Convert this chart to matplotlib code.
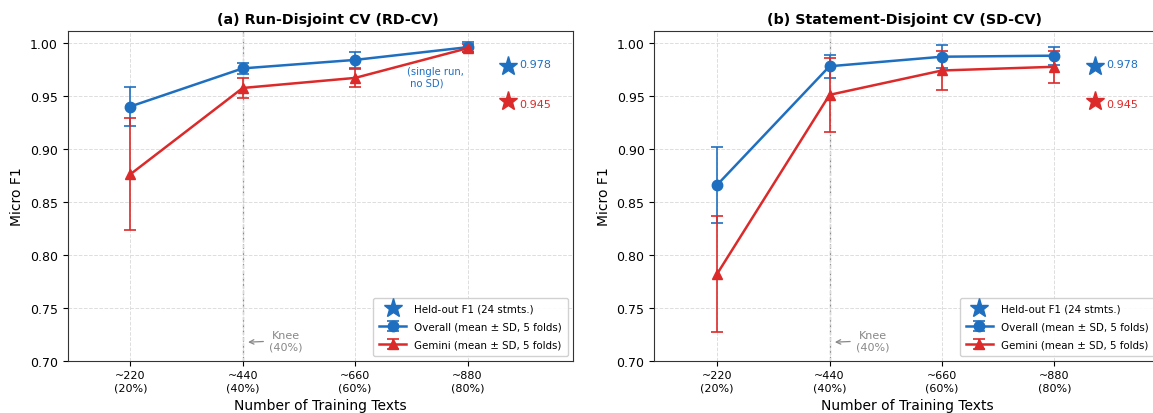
import numpy as np
import matplotlib
matplotlib.use("Agg")
import matplotlib.pyplot as plt

# ─── Data ────────────────────────────────────────────
n_train = [220, 440, 660, 880]
tick_labels = ["~220\n(20%)", "~440\n(40%)", "~660\n(60%)", "~880\n(80%)"]

# Run-disjoint CV
rd_overall_mean = [0.940, 0.976, 0.984, 0.996]
rd_overall_sd = [0.018, 0.005, 0.0075, 0.005]
rd_gemini_mean = [0.876, 0.9575, 0.967, 0.995]
rd_gemini_sd = [0.053, 0.0095, 0.0085, 0.004]

# Statement-disjoint CV
sd_overall_mean = [0.866, 0.978, 0.987, 0.988]
sd_overall_sd = [0.036, 0.011, 0.011, 0.0085]
sd_gemini_mean = [0.782, 0.951, 0.974, 0.9775]
sd_gemini_sd = [0.055, 0.035, 0.018, 0.015]

heldout_x = 960
heldout_overall = 0.978
heldout_gemini = 0.945

BLUE = "#1f6fc0"
RED = "#dc2a2a"

plt.rcParams["font.family"] = "DejaVu Sans"

fig = plt.figure(figsize=(11.53, 4.14), dpi=100)
W, H = 1153, 414
ax_a = fig.add_axes([67.5 / W, (H - 361.7) / H, 505.8 / W, 329.4 / H])
ax_b = fig.add_axes([654.3 / W, (H - 361.7) / H, 505.8 / W, 329.4 / H])


def draw_panel(ax, title, title_x, ov_m, ov_s, ge_m, ge_s):
    ax.axvline(440, color="#888888", ls="--", lw=0.9, zorder=1)
    h_ov = ax.errorbar(n_train, ov_m, yerr=ov_s, color=BLUE, marker="o", ms=7.5,
                       lw=1.8, elinewidth=1.2, capsize=4, capthick=1.2,
                       label="Overall (mean \u00b1 SD, 5 folds)", zorder=3)
    h_ge = ax.errorbar(n_train, ge_m, yerr=ge_s, color=RED, marker="^", ms=7.5,
                       lw=1.8, elinewidth=1.2, capsize=4, capthick=1.2,
                       label="Gemini (mean \u00b1 SD, 5 folds)", zorder=3)
    h_star, = ax.plot([heldout_x], [heldout_overall], ls="none", marker="*",
                      ms=14, color=BLUE, label="Held-out F1 (24 stmts.)", zorder=4)
    ax.plot([heldout_x], [heldout_gemini], ls="none", marker="*", ms=14,
            color=RED, zorder=4)
    ax.text(heldout_x + 22, heldout_overall + 0.002, f"{heldout_overall:.3f}",
            color=BLUE, fontsize=8, va="center", ha="left")
    ax.text(heldout_x + 22, heldout_gemini - 0.003, f"{heldout_gemini:.3f}",
            color=RED, fontsize=8, va="center", ha="left")

    ax.annotate("Knee\n(40%)", xy=(445, 0.7174), xytext=(524, 0.719),
                ha="center", va="center", fontsize=8, color="#888888",
                arrowprops=dict(arrowstyle="->", color="#888888", lw=0.9))

    ax.set_xlim(97, 1087)
    ax.set_ylim(0.70, 1.011)
    ax.set_xticks(n_train)
    ax.set_xticklabels(tick_labels, fontsize=8)
    ax.set_yticks(np.arange(0.70, 1.001, 0.05))
    ax.tick_params(axis="y", labelsize=9)
    ax.grid(True, ls="--", color="#dddddd", lw=0.7, zorder=0)
    ax.set_xlabel("Number of Training Texts", fontsize=10)
    ax.set_ylabel("Micro F1", fontsize=10)
    ax.set_title(title, fontsize=10.3, fontweight="bold", pad=6, x=title_x)
    for s in ax.spines.values():
        s.set_color("#333333")
    ax.legend(handles=[h_star, h_ov, h_ge], loc="lower right", fontsize=7.4,
              framealpha=0.9, borderpad=0.6, labelspacing=0.75,
              handlelength=2.6)


draw_panel(ax_a, "(a) Run-Disjoint CV (RD-CV)", 0.515,
           rd_overall_mean, rd_overall_sd, rd_gemini_mean, rd_gemini_sd)
ax_a.text(762, 0.968, "(single run,\n no SD)", color=BLUE, fontsize=7.2,
          ha="left", va="center")

draw_panel(ax_b, "(b) Statement-Disjoint CV (SD-CV)", 0.495,
           sd_overall_mean, sd_overall_sd, sd_gemini_mean, sd_gemini_sd)

fig.savefig("out.png", dpi=100)
